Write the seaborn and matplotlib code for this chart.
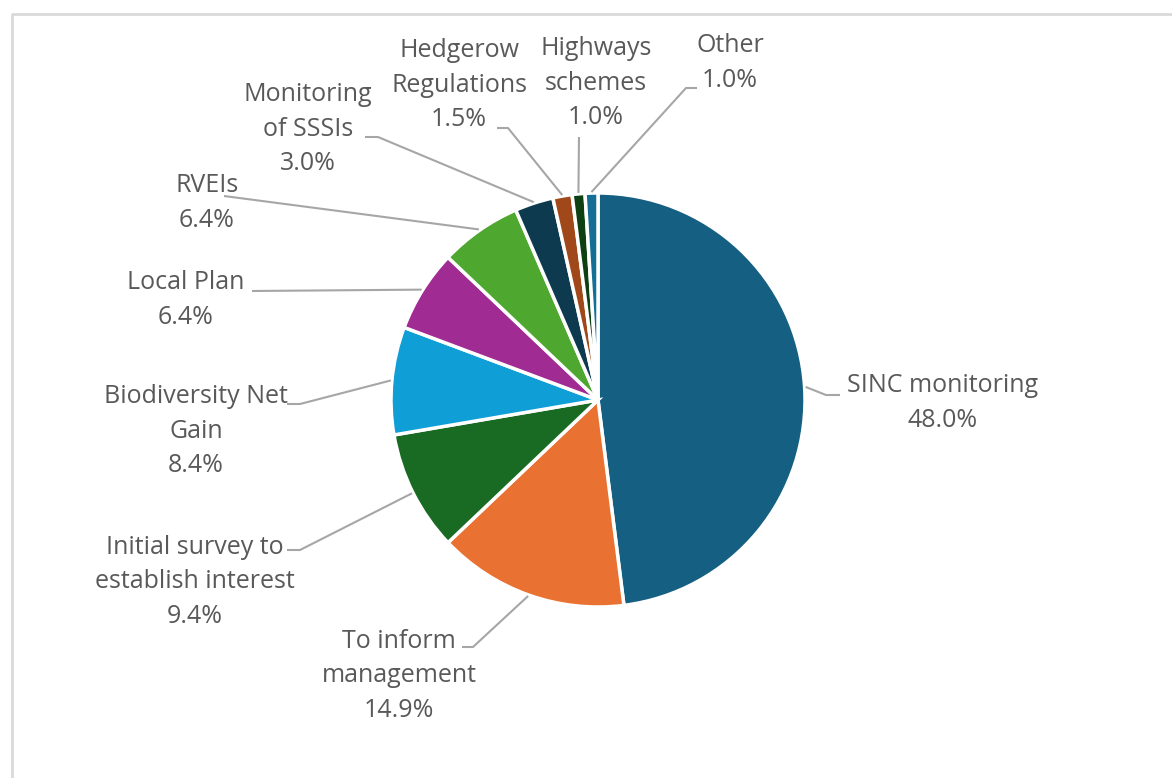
import numpy as np
import matplotlib
matplotlib.use("Agg")
import matplotlib.pyplot as plt
import seaborn as sns


# DATA
categories = [
    "SINC monitoring",
    "To inform\nmanagement",
    "Initial survey to\nestablish interest",
    "Biodiversity Net\nGain",
    "Local Plan",
    "RVEIs",
    "Monitoring\nof SSSIs",
    "Hedgerow\nRegulations",
    "Highways\nschemes",
    "Other",
]
shares = [48.0, 14.9, 9.4, 8.4, 6.4, 6.4, 3.0, 1.5, 1.0, 1.0]
colours = [
    "#156082", "#E97132", "#196B24", "#0F9ED5", "#A02B93",
    "#4EA72E", "#0D3A4F", "#A0481A", "#0E4014", "#146E96",
]

# label block centres and leader elbows, in pixels from top-left
label_pos = [
    (943, 403), (399, 676), (195, 582), (196, 431), (186, 300),
    (207, 203), (308, 129), (459, 85), (596, 83), (730, 63),
]
leader_pts = [
    [(826, 395), (840, 395)],
    [(473, 647), (462, 647)],
    [(300, 550), (287, 550)],
    [(300, 404), (287, 404)],
    [(252, 291)],
    [(224, 196)],
    [(378, 137), (365, 137)],
    [(508, 128), (497, 128)],
    [(579, 137)],
    [(686, 88), (697, 88)],
]

W, H = 1172, 778
CX, CY, R = 598, 400, 207

sns.set_theme(style="white")
plt.rcParams["font.family"] = ["Open Sans", "DejaVu Sans"]

fig = plt.figure(figsize=(W / 100, H / 100), dpi=100)
ax = fig.add_axes([0, 0, 1, 1])
ax.set_xlim(0, W)
ax.set_ylim(0, H)
ax.set_aspect("equal")
ax.axis("off")

# outer frame of the chart area
ax.plot([12, 12, W + 10], [-10, H - 14, H - 14], color="#D9D9D9", lw=2)

wedges, _ = ax.pie(
    shares,
    colors=colours,
    center=(CX, H - CY),
    radius=R,
    startangle=90,
    counterclock=False,
    wedgeprops={"edgecolor": "white", "linewidth": 2.5},
)
ax.set_xlim(0, W)
ax.set_ylim(0, H)

# labels with leader lines
total = sum(shares)
cum = np.cumsum([0] + shares[:-1])
for i, (name, val) in enumerate(zip(categories, shares)):
    mid = 90 - 360 * (cum[i] + val / 2) / total
    ex = CX + R * 1.005 * np.cos(np.radians(mid))
    ey = (H - CY) + R * 1.005 * np.sin(np.radians(mid))
    xs = [ex] + [p[0] for p in leader_pts[i]]
    ys = [ey] + [H - p[1] for p in leader_pts[i]]
    ax.plot(xs, ys, color="#A6A6A6", lw=1.5, solid_capstyle="butt")

    lx, ly = label_pos[i]
    ax.text(
        lx, H - ly,
        f"{name}\n{val:.1f}%",
        ha="center", va="center",
        multialignment="center",
        fontsize=18, color="#595959",
        linespacing=1.5,
    )

plt.savefig("out.png", dpi=100)
